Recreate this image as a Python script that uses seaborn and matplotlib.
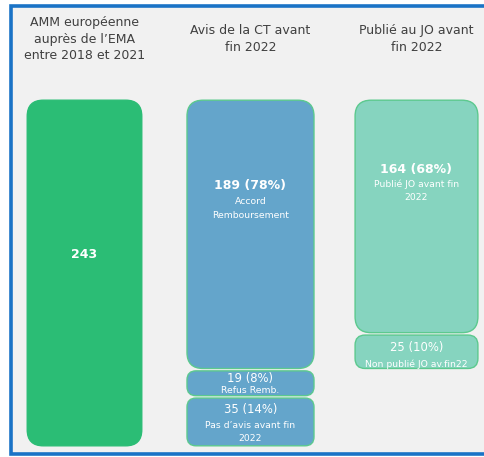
import matplotlib
matplotlib.use("Agg")
import matplotlib.pyplot as plt
import seaborn as sns
import pandas as pd
from matplotlib.patches import FancyBboxPatch, Rectangle

# ---- data ----
columns = ["AMM", "Avis CT", "JO"]
headers = ["AMM européenne\nauprès de l\u2019EMA\nentre 2018 et 2021",
           "Avis de la CT avant\nfin 2022",
           "Publié au JO avant\nfin 2022"]
seg_column = ["AMM", "Avis CT", "Avis CT", "Avis CT", "JO", "JO"]
seg_values = [243, 189, 19, 35, 164, 25]
seg_pcts = ["", "78%", "8%", "14%", "68%", "10%"]
seg_labels = ["", "Accord\nRemboursement", "Refus Remb.",
              "Pas d\u2019avis avant fin\n2022", "Publié JO avant fin\n2022",
              "Non publié JO av.fin22"]

# ---- styles ----
fills = ["#2bbd75", "#64a5cb", "#64a5cb", "#64a5cb", "#86d4bf", "#86d4bf"]
edges = ["#2bbd75", "#5cc98e", "#5cc98e", "#5cc98e", "#5cc98e", "#5cc98e"]
widths = [0.69, 0.765, 0.765, 0.765, 0.74, 0.74]
radius_px = [16, 16, 9, 9, 16, 10]
num_y_px = [255, 186, 378.5, 410, 169, 348]     # pixel rows of number labels
lab_y_px = [None, 202, 390.5, 425, 184, 364]    # pixel row of first sub-label line
num_bold = [True, True, False, False, True, False]

df = pd.DataFrame({"col": seg_column, "value": seg_values})
bottoms = []
acc = {}
for c, v in zip(seg_column, seg_values):
    bottoms.append(acc.get(c, 0))
    acc[c] = acc.get(c, 0) + v
df["bottom"] = bottoms

W, H = 485, 457
fig = plt.figure(figsize=(W / 100, H / 100), dpi=100, facecolor="white")
ax = fig.add_axes([0, 0, 1, 1])
ax.set_facecolor("white")

px_x = 166.0          # pixels per category unit
px_y = 348.0 / 243.0  # pixels per value unit
x0 = 84.5             # pixel centre of category 0
y0 = 99.0             # pixel of value 0 (top)
fx = lambda p: (p - x0) / px_x
fy = lambda p: (p - y0) / px_y

# frame
ax.add_patch(Rectangle((fx(10.5), fy(5.5)), fx(600) - fx(10.5), fy(453.5) - fy(5.5),
                       facecolor="#f1f1f1", edgecolor="#1a73c6", lw=2.6, zorder=0))

# bars via seaborn (stacked from the top), then restyle with rounded boxes
for i in range(len(df)):
    sub = df.iloc[[i]]
    sns.barplot(data=sub, x="col", y="value", order=columns, ax=ax,
                bottom=sub["bottom"].values[0], width=widths[i],
                color=fills[i], saturation=1)
ax.set_xlim(fx(0), fx(W))
ax.set_ylim(fy(H), fy(0))

bars = [p for p in ax.patches if isinstance(p, Rectangle) and p.get_height() != 0 and p.get_zorder() != 0]
gap = 1.2 / px_y
for i, b in enumerate(bars):
    bx, by, bw, bh = b.get_x(), b.get_y(), b.get_width(), b.get_height()
    b.set_visible(False)
    yb = min(by, by + bh)
    hh = abs(bh)
    r = radius_px[i] / px_x
    fb = FancyBboxPatch((bx, yb + gap), bw, hh - 2 * gap,
                        boxstyle=f"round,pad=0,rounding_size={r}",
                        mutation_aspect=px_x / px_y,
                        facecolor=fills[i], edgecolor=edges[i], lw=1.0, zorder=3)
    ax.add_patch(fb)

ax.axis("off")

font = "DejaVu Sans"
# headers
for j, h in enumerate(headers):
    ax.text(j, fy(39), h, ha="center", va="center", fontsize=9, color="#404040",
            family=font, linespacing=1.38)

# bar labels
col_idx = {c: i for i, c in enumerate(columns)}
for i, (c, v, pct, lab) in enumerate(zip(seg_column, seg_values, seg_pcts, seg_labels)):
    xc = col_idx[c]
    num = f"{v}" if not pct else f"{v} ({pct})"
    ax.text(xc, fy(num_y_px[i]), num, ha="center", va="center", color="white",
            fontsize=9 if num_bold[i] else 8.4,
            fontweight="bold" if num_bold[i] else "normal", family=font, zorder=5)
    if lab:
        for k, line in enumerate(lab.split("\n")):
            ax.text(xc, fy(lab_y_px[i] + 13.5 * k), line, ha="center", va="center",
                    color="white", fontsize=6.7, family=font, zorder=5)

fig.savefig("out.png", dpi=100, facecolor="white")
